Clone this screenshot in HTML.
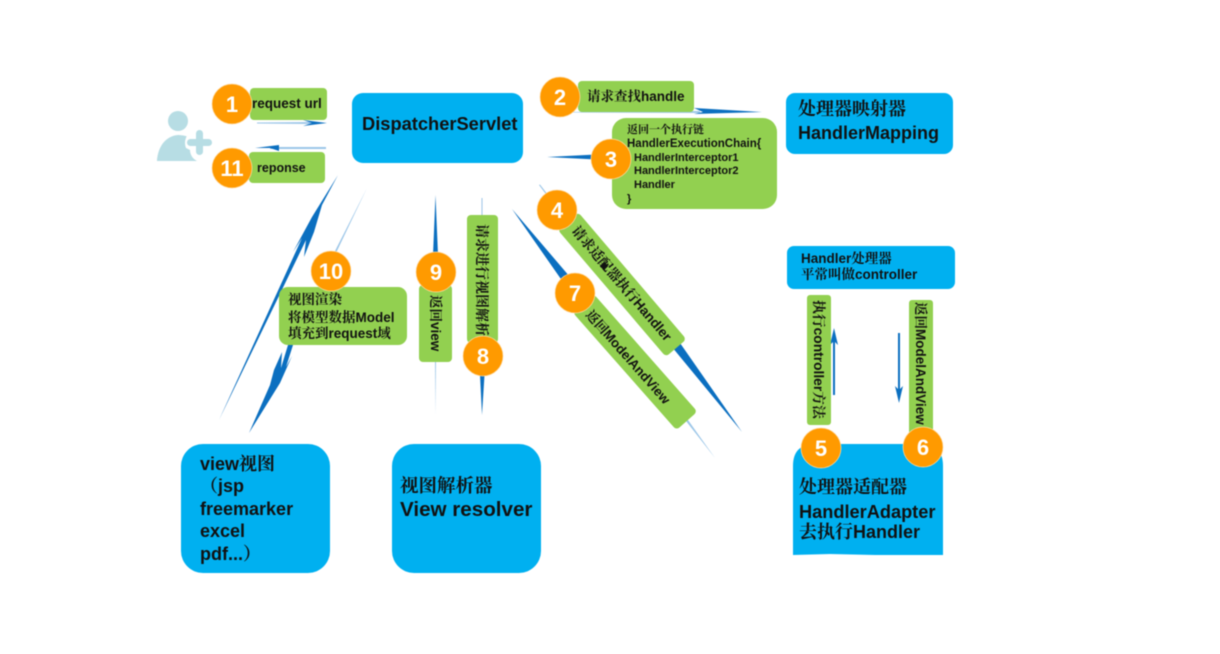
<!DOCTYPE html>
<html><head><meta charset="utf-8"><style>
html,body{margin:0;padding:0;background:#fff;width:1220px;height:654px;overflow:hidden}
svg{display:block;filter:blur(.5px)}
text{font-family:"Liberation Sans","Noto Serif CJK SC",serif;font-weight:bold;fill:#111}
.n{fill:#fff;font-size:22px;text-anchor:middle}
.c{fill:#ff9a00;stroke:#ffd9a0;stroke-width:.7}
.g{fill:#92d050}.b{fill:#00b0f0}
.a{fill:#0b6fc0}.f{fill:#9cc6e8}
</style></head><body>
<svg width="1220" height="654" viewBox="0 0 1220 654" xmlns="http://www.w3.org/2000/svg">
<!-- person -->
<g fill="#b7dde4">
<circle cx="178" cy="121" r="10"/>
<path d="M157 161C158 146 166 136 178 135C184 135 190 137 194 140L189 146C186 152 190 158 197 161Z"/>
<circle cx="199" cy="143" r="14" fill="#fff"/>
<path d="M157 161C158 150 162 143 168 139L190 150C190 155 193 159 197 161Z"/>
<rect x="187" y="139" width="25" height="7" rx="3.5"/>
<rect x="196" y="130" width="7" height="25" rx="3.5"/>
</g>
<!-- connectors -->
<polygon class="f" points="257,122.5 313,122 313,124 257,123.5"/>
<polygon class="a" points="303,120 327,123 303,126 312,123"/>
<polygon class="f" points="326,147 270,147 270,149 326,149"/>
<polygon class="a" points="255,148 279,145 279,151 270,148"/>
<polygon class="f" points="570,112 700,111 700,113 570,112.5"/>
<polygon class="a" points="694,108 762,112 694,114 703,112"/>
<polygon class="a" points="547,157 596,154.5 596,159.5"/>
<polygon class="a" points="512,209 563,282 570,277"/>
<polygon class="f" points="539,185 540,184.500 558,208 557,209"/>
<polygon class="a" points="672,347 680,343 742,432"/>
<polygon class="f" points="686,421 688,420 715,458"/>
<polygon class="a" points="338,175 322,205 314,232 304,257 306,240 219,420 302,238 293,252 312,217"/>
<polygon class="f" points="367,188 336,253 334.500,252"/>
<polygon class="a" points="249,433 270,385 274,370 282,352 281,368 288,345 293,345 286,367 292,356 280,383"/>
<polygon class="a" points="435.500,195 433,255 438,255"/>
<polygon class="f" points="435,360 436,360 435.500,415"/>
<polygon class="f" points="481.500,198 482.500,198 482.500,216 481.500,216"/>
<polygon class="a" points="482,415 480,375 484.500,375"/>
<polygon class="a" points="834,328 830,345 833,342 833,395 835,395 835,342 838,345"/>
<polygon class="a" points="899,403 895,386 898,389 898,333 900,333 900,389 903,386"/>
<!-- main boxes -->
<rect class="b" x="352" y="93" width="171" height="70" rx="11"/>
<text x="362" y="130" font-size="18.300">DispatcherServlet</text>
<rect class="b" x="786" y="93" width="167" height="61" rx="9"/>
<text x="798" y="115" font-size="18">处理器映射器</text>
<text x="798" y="139" font-size="18">HandlerMapping</text>
<rect class="b" x="787" y="246" width="168" height="43" rx="7"/>
<text x="801" y="263" font-size="13.500">Handler处理器</text>
<text x="801" y="279" font-size="13.500">平常叫做controller</text>
<path class="b" d="M793 466Q793 444 815 444H921Q943 444 943 466V555H875L830 554L793 555Z"/>
<text x="799" y="493" font-size="18">处理器适配器</text>
<text x="799" y="518" font-size="18.200">HandlerAdapter</text>
<text x="799" y="538" font-size="18">去执行Handler</text>
<rect class="b" x="181" y="444" width="149" height="129" rx="22"/>
<text x="200" y="470" font-size="18">view视图</text>
<text x="200" y="492" font-size="18">（jsp</text>
<text x="200" y="515" font-size="18">freemarker</text>
<text x="200" y="537" font-size="18">excel</text>
<text x="200" y="560" font-size="18">pdf...）</text>
<rect class="b" x="392" y="444" width="149" height="129" rx="22"/>
<text x="400" y="492" font-size="18.500">视图解析器</text>
<text x="400" y="516" font-size="20.600">View resolver</text>
<!-- green labels -->
<rect class="g" x="250" y="88" width="77" height="32" rx="4"/>
<text x="252" y="108" font-size="13.500">request url</text>
<rect class="g" x="249" y="152" width="76" height="31" rx="4"/>
<text x="257" y="172" font-size="12.500">reponse</text>
<rect class="g" x="578" y="81" width="116" height="31" rx="4"/>
<text x="587" y="101" font-size="13.500">请求查找handle</text>
<rect class="g" x="612" y="118" width="165" height="91" rx="14"/>
<g font-size="11">
<text x="627" y="133">返回一个执行链</text>
<text x="627" y="147" font-size="11.500">HandlerExecutionChain{</text>
<text x="634" y="161">HandlerInterceptor1</text>
<text x="634" y="174">HandlerInterceptor2</text>
<text x="634" y="188">Handler</text>
<text x="627" y="202">}</text>
</g>
<rect class="g" x="279" y="287" width="128" height="58" rx="9"/>
<text x="288" y="304" font-size="13.500">视图渲染</text>
<text x="288" y="322" font-size="13.500">将模型数据Model</text>
<text x="288" y="338" font-size="13.500">填充到request域</text>
<rect class="g" x="419" y="285" width="33" height="77" rx="4"/>
<text transform="translate(431,295) rotate(90)" font-size="13.500">返回view</text>
<rect class="g" x="467" y="215" width="31" height="128" rx="4"/>
<text transform="translate(477,224) rotate(90)" font-size="14">请求进行视图解析</text>
<rect class="g" x="807" y="295" width="24" height="130" rx="3"/>
<text transform="translate(814,300) rotate(90)" font-size="13.800">执行controller方法</text>
<rect class="g" x="909" y="300" width="24" height="140" rx="3"/>
<text transform="translate(916,302) rotate(90)" font-size="13.500">返回ModelAndView</text>
<rect class="g" x="-83.500" y="-13.500" width="167" height="27" rx="4" transform="translate(622,284.500) rotate(49.600)"/>
<text transform="translate(571,231) rotate(49.600)" font-size="13.600">请求适配器执行Handler</text>
<rect class="g" x="-78.500" y="-14" width="157" height="28" rx="4" transform="translate(635,362) rotate(48.600)"/>
<text transform="translate(585,315) rotate(48.600)" font-size="13.200">返回ModelAndView</text>
<rect x="601" y="263" width="6" height="6" fill="#111" transform="rotate(45 604 266)"/>
<!-- number circles -->
<circle class="c" cx="232" cy="104" r="20"/><text class="n" x="232" y="112">1</text>
<circle class="c" cx="232" cy="168" r="20"/><text class="n" x="232" y="176">11</text>
<circle class="c" cx="560" cy="97" r="20"/><text class="n" x="560" y="105">2</text>
<circle class="c" cx="611" cy="159" r="20"/><text class="n" x="611" y="167">3</text>
<circle class="c" cx="557" cy="210" r="20"/><text class="n" x="557" y="218">4</text>
<circle class="c" cx="575" cy="293" r="20"/><text class="n" x="575" y="301">7</text>
<circle class="c" cx="821" cy="448" r="20"/><text class="n" x="821" y="456">5</text>
<circle class="c" cx="923" cy="447" r="20"/><text class="n" x="923" y="455">6</text>
<circle class="c" cx="331" cy="271" r="20"/><text class="n" x="331" y="279">10</text>
<circle class="c" cx="436" cy="272" r="20"/><text class="n" x="436" y="280">9</text>
<circle class="c" cx="483" cy="356" r="20"/><text class="n" x="483" y="364">8</text>
</svg>
</body></html>
